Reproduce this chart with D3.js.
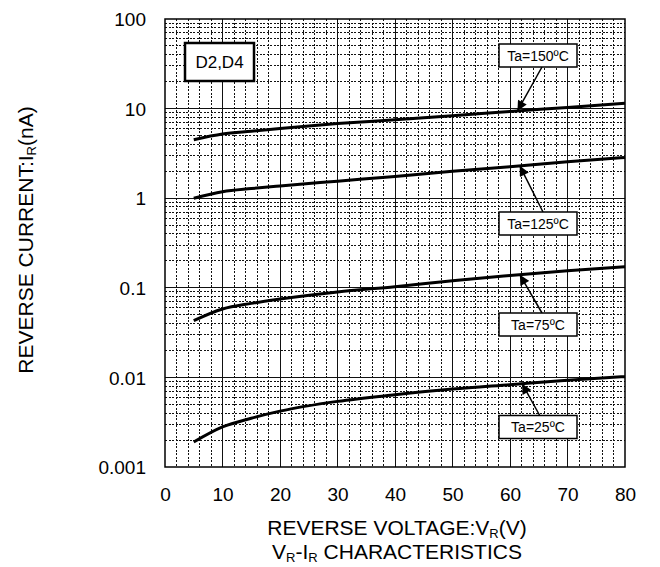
<!DOCTYPE html>
<html><head><meta charset="utf-8">
<script src="https://cdn.jsdelivr.net/npm/d3@7"></script>
<style>
html,body{margin:0;padding:0;background:#fff;}
svg{display:block;font-family:"Liberation Sans",Arial,sans-serif;}
</style></head>
<body><svg id="c" width="660" height="567"></svg>
<script>
// ---- data ----
const voltage = [5, 10, 15, 20, 30, 40, 50, 60, 70, 80];
const ir150 = [4.5, 5.2, 5.6, 6.0, 6.8, 7.5, 8.3, 9.3, 10.3, 11.5];
const ir125 = [1.0, 1.18, 1.28, 1.37, 1.55, 1.75, 2.0, 2.25, 2.55, 2.85];
const ir75  = [0.043, 0.058, 0.067, 0.075, 0.09, 0.103, 0.12, 0.137, 0.155, 0.172];
const ir25  = [0.0019, 0.0028, 0.0035, 0.0042, 0.0054, 0.0064, 0.0074, 0.0083, 0.0093, 0.0102];
const seriesNames = ["Ta=150ºC", "Ta=125ºC", "Ta=75ºC", "Ta=25ºC"];
const xTicks = [0, 10, 20, 30, 40, 50, 60, 70, 80];
const yTicks = [0.001, 0.01, 0.1, 1, 10, 100];
const yTickLabels = ["0.001", "0.01", "0.1", "1", "10", "100"];
const arrowV = [61.3, 61.7, 61.7, 62.1];

// ---- layout ----
const L = 165, R = 625, T = 19, B = 467;
const svg = d3.select("#c");
const x = d3.scaleLinear().domain([0, 80]).range([L, R]);
const y = d3.scaleLog().domain([0.001, 100]).range([B, T]);

const g = svg.append("g");
// vertical grid
const vg = d3.range(2, 80, 2);
g.selectAll(".vg").data(vg).enter().append("line")
  .attr("x1", d => x(d)).attr("x2", d => x(d)).attr("y1", T).attr("y2", B)
  .attr("stroke", "#111").attr("stroke-width", 1)
  .attr("stroke-dasharray", d => d % 10 === 0 ? null : "2,1.5")
  .attr("shape-rendering", "crispEdges");
// horizontal grid
const hg = [];
for (let e = -3; e < 2; e++) for (let m = 1; m < 10; m++) hg.push(m * Math.pow(10, e));
g.selectAll(".hg").data(hg.filter(d => d > 0.001 && d < 100)).enter().append("line")
  .attr("x1", L).attr("x2", R).attr("y1", d => y(d)).attr("y2", d => y(d))
  .attr("stroke", "#111").attr("stroke-width", 1)
  .attr("stroke-dasharray", d => Math.abs(Math.log10(d) - Math.round(Math.log10(d))) < 1e-6 ? null : "2,1.5")
  .attr("shape-rendering", "crispEdges");
// frame
g.append("rect").attr("x", L).attr("y", T).attr("width", R - L).attr("height", B - T)
  .attr("fill", "none").attr("stroke", "#000").attr("stroke-width", 1.5);

// axes tick labels
const xAxis = d3.axisBottom(x).tickValues(xTicks).tickSize(0).tickPadding(0);
const xa = svg.append("g").attr("transform", `translate(0,${B})`).call(xAxis);
xa.select(".domain").remove();
xa.selectAll("text").attr("font-size", 19).attr("fill", "#000").attr("dy", null).attr("y", 34)
  .attr("font-family", "Liberation Sans, Arial, sans-serif");
const yAxis = d3.axisLeft(y).tickValues(yTicks).tickFormat((d, i) => yTickLabels[i]).tickSize(0).tickPadding(0);
const ya = svg.append("g").attr("transform", `translate(146,0)`).call(yAxis);
ya.select(".domain").remove();
ya.selectAll("text").attr("font-size", 19).attr("fill", "#000").attr("x", 0).attr("dy", "0.35em")
  .attr("font-family", "Liberation Sans, Arial, sans-serif");

// curves
const all = [ir150, ir125, ir75, ir25];
const line = d3.line().x(d => x(d[0])).y(d => y(d[1])).curve(d3.curveMonotoneX);
all.forEach(s => {
  svg.append("path").attr("d", line(voltage.map((v, i) => [v, s[i]])))
    .attr("fill", "none").attr("stroke", "#000").attr("stroke-width", 3);
});

// arrow marker
svg.append("defs").append("marker").attr("id", "ah")
  .attr("viewBox", "0 0 10 10").attr("refX", 10).attr("refY", 5)
  .attr("markerWidth", 13).attr("markerHeight", 10).attr("markerUnits", "userSpaceOnUse")
  .attr("orient", "auto")
  .append("path").attr("d", "M0,0 L10,5 L0,10 Z").attr("fill", "#000");

// label boxes (pixel layout)
const boxC = [[538, 55.5], [538, 223.5], [538, 324.5], [538, 427]];
const arrowStart = [[542, 67], [543, 212], [542, 313], [540, 416]];
function interp(v, s) {
  const lv = voltage.map((vv, i) => [vv, Math.log10(s[i])]);
  for (let i = 0; i < lv.length - 1; i++) {
    if (v >= lv[i][0] && v <= lv[i + 1][0]) {
      const t = (v - lv[i][0]) / (lv[i + 1][0] - lv[i][0]);
      return Math.pow(10, lv[i][1] + t * (lv[i + 1][1] - lv[i][1]));
    }
  }
  return s[s.length - 1];
}
seriesNames.forEach((n, i) => {
  const tip = [x(arrowV[i]), y(interp(arrowV[i], all[i]))];
  svg.append("line").attr("x1", arrowStart[i][0]).attr("y1", arrowStart[i][1])
    .attr("x2", tip[0]).attr("y2", tip[1]).attr("stroke", "#000").attr("stroke-width", 1.5)
    .attr("marker-end", "url(#ah)");
  svg.append("rect").attr("x", boxC[i][0] - 39).attr("y", boxC[i][1] - 11.5)
    .attr("width", 78).attr("height", 23).attr("fill", "#fff").attr("stroke", "#000").attr("stroke-width", 1.5);
  svg.append("text").attr("x", boxC[i][0]).attr("y", boxC[i][1]).attr("dy", "0.36em")
    .attr("text-anchor", "middle").attr("font-size", 14).text(n);
});

// D2,D4 box
svg.append("rect").attr("x", 185).attr("y", 43).attr("width", 69).attr("height", 38)
  .attr("fill", "#fff").attr("stroke", "#000").attr("stroke-width", 2.5);
svg.append("text").attr("x", 219.5).attr("y", 62).attr("dy", "0.36em").attr("text-anchor", "middle")
  .attr("font-size", 17).text("D2,D4");

// axis titles
const xt = svg.append("text").attr("x", 397).attr("y", 535).attr("text-anchor", "middle").attr("font-size", 21);
xt.append("tspan").text("REVERSE VOLTAGE:V");
xt.append("tspan").attr("font-size", 13).attr("dy", 3).text("R");
xt.append("tspan").attr("dy", -3).text("(V)");
const xt2 = svg.append("text").attr("x", 397).attr("y", 559).attr("text-anchor", "middle").attr("font-size", 21);
xt2.append("tspan").text("V");
xt2.append("tspan").attr("font-size", 13).attr("dy", 3).text("R");
xt2.append("tspan").attr("dy", -3).text("-I");
xt2.append("tspan").attr("font-size", 13).attr("dy", 3).text("R");
xt2.append("tspan").attr("dy", -3).text(" CHARACTERISTICS");

const yt = svg.append("text").attr("transform", "translate(33,240) rotate(-90)")
  .attr("text-anchor", "middle").attr("font-size", 21);
yt.append("tspan").text("REVERSE CURRENT:I");
yt.append("tspan").attr("font-size", 13).attr("dy", 3).text("R");
yt.append("tspan").attr("dy", -3).text("(nA)");
</script></body></html>
